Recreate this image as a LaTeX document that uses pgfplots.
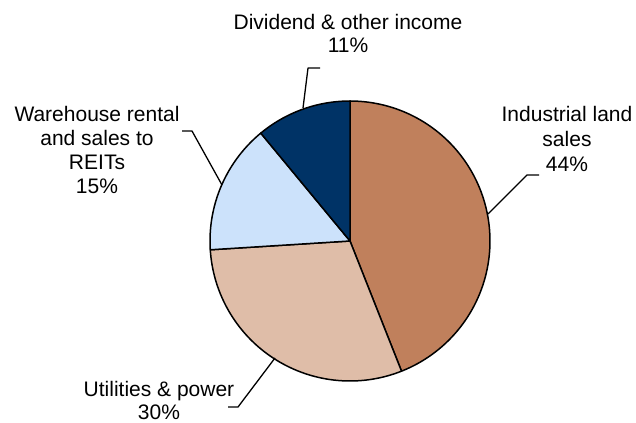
\documentclass[border=0pt]{standalone}
\usepackage{pgfplots}
\usepackage{pgfplotstable}
\usepackage{fontspec}
\setmainfont{Liberation Sans}
\pgfplotsset{compat=1.18}

\definecolor{cInd}{HTML}{C0805C}
\definecolor{cUti}{HTML}{DFBDA8}
\definecolor{cWar}{HTML}{CCE2FB}
\definecolor{cDiv}{HTML}{003366}

% shares of the pie, in percent (clockwise from 12 o'clock)
\pgfplotstableread{
label value
Industrial 44
Utilities 30
Warehouse 15
Dividend 11
}\piedata
\pgfplotstablegetelem{0}{value}\of\piedata \let\vA\pgfplotsretval
\pgfplotstablegetelem{1}{value}\of\piedata \let\vB\pgfplotsretval
\pgfplotstablegetelem{2}{value}\of\piedata \let\vC\pgfplotsretval
\pgfplotstablegetelem{3}{value}\of\piedata \let\vD\pgfplotsretval
\pgfmathsetmacro\aO{90}
\pgfmathsetmacro\aA{\aO-3.6*\vA}
\pgfmathsetmacro\aB{\aA-3.6*\vB}
\pgfmathsetmacro\aC{\aB-3.6*\vC}
\pgfmathsetmacro\aD{\aC-3.6*\vD}

\newcommand\cx{350}
\newcommand\cy{182}
\newcommand\rr{140}

\begin{document}
\begin{tikzpicture}
\begin{axis}[
  scale only axis, width=636bp, height=423bp,
  xmin=0, xmax=636, ymin=0, ymax=423,
  hide axis, clip=false,
  every axis plot/.append style={line width=1.5bp, line join=round},
]
\path (rel axis cs:0,0) rectangle (rel axis cs:1,1);
% slices
\addplot[draw=black, fill=cInd, domain=\aA:\aO, samples=90, variable=\t]
  ({\cx+\rr*cos(\t)}, {\cy+\rr*sin(\t)}) -- (axis cs:\cx,\cy) -- cycle;
\addplot[draw=black, fill=cUti, domain=\aB:\aA, samples=70, variable=\t]
  ({\cx+\rr*cos(\t)}, {\cy+\rr*sin(\t)}) -- (axis cs:\cx,\cy) -- cycle;
\addplot[draw=black, fill=cWar, domain=\aC:\aB, samples=40, variable=\t]
  ({\cx+\rr*cos(\t)}, {\cy+\rr*sin(\t)}) -- (axis cs:\cx,\cy) -- cycle;
\addplot[draw=black, fill=cDiv, domain=\aD:\aC, samples=30, variable=\t]
  ({\cx+\rr*cos(\t)}, {\cy+\rr*sin(\t)}) -- (axis cs:\cx,\cy) -- cycle;

% leader lines
\addplot[black, line width=1.3bp, mark=none] coordinates {(320,355) (308,355) (303,315)};
\addplot[black, line width=1.3bp, mark=none] coordinates {(182,292) (192,292) (222,238)};
\addplot[black, line width=1.3bp, mark=none] coordinates {(539,248) (527,248) (488,209)};
\addplot[black, line width=1.3bp, mark=none] coordinates {(228,16) (238,16) (275,65)};

% labels
\tikzset{lbl/.style={anchor=base, inner sep=0pt, font=\fontsize{21bp}{24bp}\selectfont}}
\node[lbl] at (axis cs:348,393) {Dividend \& other income};
\node[lbl] at (axis cs:348,370) {11\%};

\node[lbl] at (axis cs:97,301) {Warehouse rental};
\node[lbl] at (axis cs:97,277) {and sales to};
\node[lbl] at (axis cs:97,253) {REITs};
\node[lbl] at (axis cs:97,229) {15\%};

\node[lbl] at (axis cs:567,301) {Industrial land};
\node[lbl] at (axis cs:567,276) {sales};
\node[lbl] at (axis cs:567,251) {44\%};

\node[lbl] at (axis cs:159,27) {Utilities \& power};
\node[lbl] at (axis cs:159,4) {30\%};
\end{axis}
\end{tikzpicture}
\end{document}
